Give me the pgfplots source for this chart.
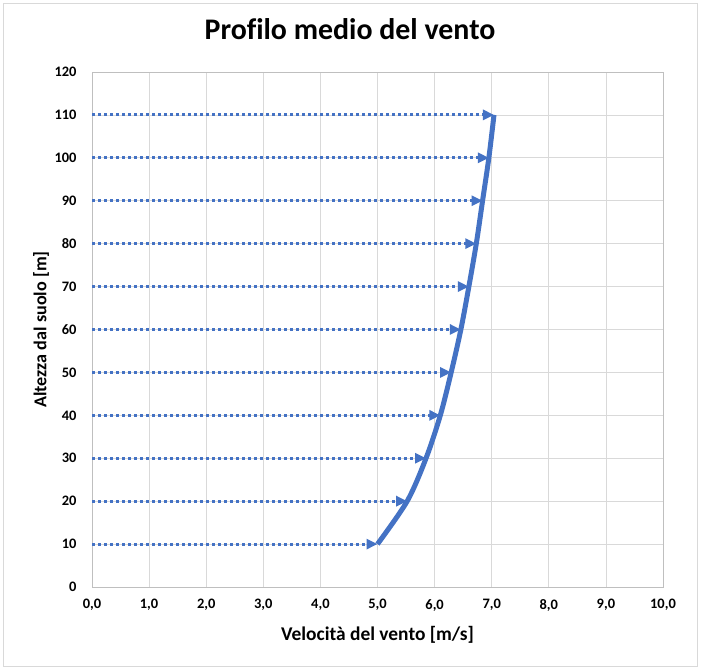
\documentclass[border=0pt]{standalone}
\usepackage{fontspec}
\setmainfont{Carlito}[Ligatures={NoCommon}]
\usepackage{pgfplots}
\pgfplotsset{compat=1.18}
\usetikzlibrary{arrows.meta}

\definecolor{xlblue}{HTML}{4472C4}
\definecolor{gridgray}{HTML}{D9D9D9}
\definecolor{axisgray}{HTML}{BFBFBF}

\begin{document}
\begin{tikzpicture}[x=1bp,y=1bp]
    % chart area (701 x 670 px)
    \fill[white] (0,0) rectangle (701,670);
    \draw[gridgray, line width=0.8bp] (3,4) rectangle (697,667);

    \begin{axis}[
        at={(92bp,83bp)},
        anchor=south west,
        scale only axis,
        width  = 571bp,
        height = 515bp,
        xmin=0, xmax=10,
        ymin=0, ymax=120,
        xtick={0,1,...,10},
        ytick={0,10,...,120},
        major tick length=0pt,
        grid=major,
        grid style={gridgray, line width=0.8bp},
        axis line style={axisgray, line width=0.8bp},
        /pgf/number format/assume math mode=true,
        xticklabel style={
            /pgf/number format/.cd, fixed, fixed zerofill, precision=1, use comma,
            /tikz/.cd, font=\fontsize{14.5}{17}\selectfont\bfseries, yshift=-9bp},
        yticklabel style={font=\fontsize{14.5}{17}\selectfont\bfseries, xshift=-12bp},
        title={Profilo medio del vento},
        title style={font=\fontsize{30}{35}\selectfont\bfseries,
            at={(0.4518,1)}, anchor=base, yshift=27bp},
        xlabel={Velocità del vento [m/s]},
        xlabel style={font=\fontsize{19.5}{23}\selectfont\bfseries,
            at={(0.5,0)}, anchor=base, yshift=-53bp},
        ylabel={Altezza dal suolo [m]},
        ylabel style={font=\fontsize{18.2}{22}\selectfont\bfseries,
            at={(-0.0797,0.5)}, anchor=base},
        clip=false,
    ]
        % horizontal arrows from the height axis to the profile
        \pgfplotsforeachungrouped \h/\v in {10/5.00, 20/5.52, 30/5.85, 40/6.10, 50/6.29,
                                      60/6.46, 70/6.60, 80/6.73, 90/6.84, 100/6.95, 110/7.04} {
            \edef\temp{\noexpand\addplot[xlblue, line width=3bp,
                dash pattern=on 3bp off 3bp, line cap=butt,
                -{Triangle[length=11bp,width=10bp]}]
                coordinates {(0,\h) (\v,\h)};}
            \temp
        }
        % mean wind profile
        \addplot[xlblue, line width=5bp, smooth, mark=none]
            coordinates {(5.00,10) (5.52,20) (5.85,30) (6.10,40) (6.29,50) (6.46,60)
                         (6.60,70) (6.73,80) (6.84,90) (6.95,100) (7.04,110)};
    \end{axis}
\end{tikzpicture}
\end{document}
